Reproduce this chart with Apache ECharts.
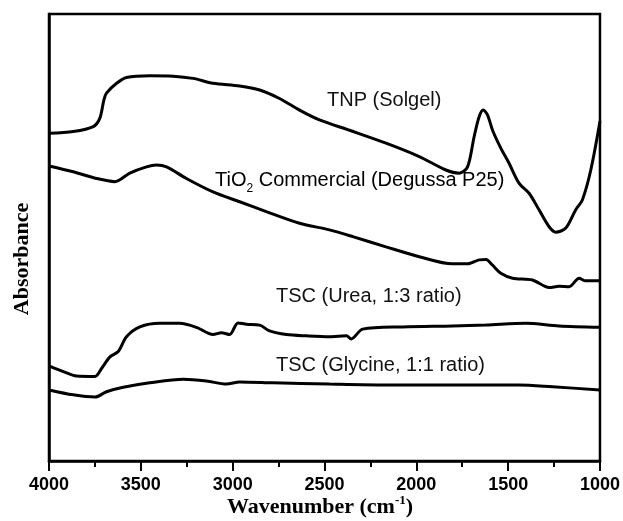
<!DOCTYPE html>
<html>
<head>
<meta charset="utf-8">
<script src="https://cdn.jsdelivr.net/npm/echarts@6/dist/echarts.min.js"></script>
<style>
  html, body { margin: 0; padding: 0; background: #fff; }
  #main { width: 623px; height: 521px; }
</style>
</head>
<body>
<div id="main"></div>
<script>
// FTIR spectra, wavenumber (cm-1) vs absorbance (arbitrary units)
var xTicks = [4000, 3500, 3000, 2500, 2000, 1500, 1000];

// TNP (Solgel)
var tnpWave = [4000, 3868, 3759, 3723, 3701, 3687, 3632, 3578, 3451, 3324, 3216, 3107, 2962, 2853, 2745, 2636, 2527, 2364, 2165, 1984, 1839, 1766, 1721, 1685, 1658, 1636, 1612, 1585, 1540, 1495, 1440, 1386, 1332, 1277, 1241, 1186, 1132, 1096, 1050, 1000];
var tnpAbs = [73.3, 73.7, 74.8, 76.7, 80.8, 82.3, 84.5, 85.8, 86.2, 86.1, 85.6, 84.5, 83.9, 83.0, 81.1, 78.5, 76.3, 74.0, 71.1, 68.1, 65.1, 64.4, 65.8, 72.6, 77.0, 78.5, 77.4, 74.0, 70.0, 66.6, 62.1, 59.9, 56.2, 52.4, 51.2, 52.1, 56.2, 58.4, 65.1, 76.0];

// TiO2 Commercial (Degussa P25)
var comWave = [4000, 3868, 3741, 3641, 3560, 3469, 3415, 3360, 3252, 3107, 2962, 2817, 2636, 2473, 2346, 2165, 1984, 1803, 1721, 1658, 1621, 1585, 1540, 1476, 1368, 1277, 1223, 1168, 1114, 1078, 1000];
var comAbs = [66.0, 64.7, 63.2, 62.5, 64.4, 65.8, 66.2, 65.8, 63.2, 60.2, 58.0, 55.8, 53.2, 51.7, 50.2, 47.9, 45.7, 44.1, 44.1, 45.0, 45.1, 43.8, 42.0, 40.9, 40.5, 38.8, 39.1, 39.0, 40.9, 40.3, 40.3];

// TSC (Urea, 1:3 ratio)
var ureaWave = [4000, 3922, 3850, 3750, 3714, 3668, 3623, 3578, 3505, 3397, 3288, 3197, 3107, 3061, 3016, 2971, 2925, 2853, 2799, 2708, 2599, 2473, 2380, 2355, 2292, 2074, 1803, 1621, 1404, 1223, 1000];
var ureaAbs = [21.3, 20.0, 19.0, 18.9, 20.7, 23.3, 24.5, 27.8, 30.0, 30.8, 30.8, 29.9, 28.3, 28.7, 28.3, 30.9, 30.6, 30.4, 29.1, 28.3, 28.0, 27.8, 28.0, 27.3, 29.5, 30.0, 30.2, 30.4, 30.8, 30.2, 29.9];

// TSC (Glycine, 1:1 ratio)
var glyWave = [4000, 3868, 3750, 3687, 3596, 3451, 3270, 3143, 3034, 2962, 2781, 2473, 2165, 1803, 1440, 1259, 1000];
var glyAbs = [15.9, 14.8, 14.3, 15.5, 16.5, 17.5, 18.3, 17.9, 17.2, 17.7, 17.5, 17.2, 17.0, 17.0, 17.0, 16.6, 15.9];

function pairs(xs, ys) {
  return xs.map(function (x, i) { return [x, ys[i]]; });
}

function spectrum(name, xs, ys) {
  return {
    name: name,
    type: 'line',
    data: pairs(xs, ys),
    showSymbol: false,
    smooth: 0.3,
    lineStyle: { color: '#000', width: 3 },
    silent: true
  };
}

var sansLabel = { fontFamily: 'Liberation Sans', fontSize: 20, fill: '#111' };

var chart = echarts.init(document.getElementById('main'));
chart.setOption({
  animation: false,
  backgroundColor: '#fff',
  grid: {
    left: 49, right: 22, top: 14, bottom: 60,
    show: true, borderColor: '#000', borderWidth: 2.5
  },
  xAxis: {
    type: 'value',
    inverse: true,
    min: 1000, max: 4000, interval: 500,
    axisLine: { lineStyle: { color: '#000', width: 2.5 } },
    axisTick: { inside: false, length: 10, lineStyle: { color: '#000', width: 2 } },
    minorTick: { show: true, splitNumber: 2, length: 6, lineStyle: { color: '#000', width: 2 } },
    splitLine: { show: false },
    axisLabel: {
      margin: 15,
      color: '#000',
      fontFamily: 'Liberation Sans',
      fontWeight: 'bold',
      fontSize: 18,
      formatter: function (v) { return xTicks.indexOf(v) >= 0 ? String(v) : ''; }
    }
  },
  yAxis: {
    type: 'value',
    min: 0, max: 100,
    axisLine: { show: true, lineStyle: { color: '#000', width: 2.5 } },
    axisTick: { show: false },
    axisLabel: { show: false },
    splitLine: { show: false }
  },
  series: [
    spectrum('TNP (Solgel)', tnpWave, tnpAbs),
    spectrum('TiO2 Commercial (Degussa P25)', comWave, comAbs),
    spectrum('TSC (Urea, 1:3 ratio)', ureaWave, ureaAbs),
    spectrum('TSC (Glycine, 1:1 ratio)', glyWave, glyAbs)
  ],
  graphic: [
    {
      type: 'text', left: 327, top: 90,
      style: Object.assign({ text: 'TNP (Solgel)' }, sansLabel)
    },
    {
      type: 'text', left: 215, top: 170,
      style: {
        text: '{a|TiO}{b|2}{a| Commercial (Degussa P25)}',
        rich: {
          a: { fontFamily: 'Liberation Sans', fontSize: 20, lineHeight: 30, color: '#111' },
          b: { fontFamily: 'Liberation Sans', fontSize: 12, lineHeight: 12, verticalAlign: 'bottom', color: '#111' }
        }
      }
    },
    {
      type: 'text', left: 276, top: 286,
      style: Object.assign({ text: 'TSC (Urea, 1:3 ratio)' }, sansLabel)
    },
    {
      type: 'text', left: 276, top: 355,
      style: Object.assign({ text: 'TSC (Glycine, 1:1 ratio)' }, sansLabel)
    },
    {
      type: 'text', x: 22, y: 259, rotation: Math.PI / 2,
      style: {
        text: 'Absorbance',
        fontFamily: 'Liberation Serif', fontWeight: 'bold', fontSize: 22,
        fill: '#000', align: 'center', verticalAlign: 'middle'
      }
    },
    {
      type: 'text', x: 320, y: 507,
      style: {
        text: '{t|Wavenumber (cm}{s|-1}{t|)}',
        align: 'center', verticalAlign: 'middle',
        rich: {
          t: { fontFamily: 'Liberation Serif', fontWeight: 'bold', fontSize: 22, lineHeight: 26, color: '#000' },
          s: { fontFamily: 'Liberation Serif', fontWeight: 'bold', fontSize: 13, lineHeight: 13, verticalAlign: 'top', color: '#000' }
        }
      }
    }
  ]
});
</script>
</body>
</html>
